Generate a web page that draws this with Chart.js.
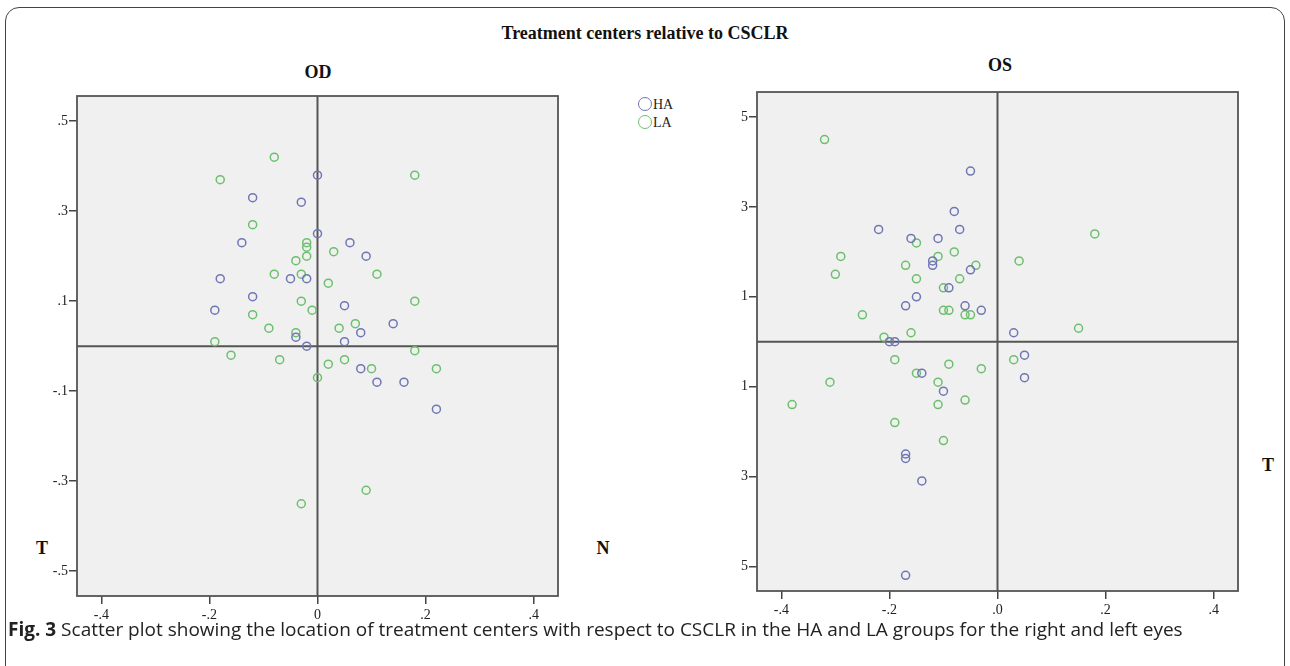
<!DOCTYPE html>
<html>
<head>
<meta charset="utf-8">
<script src="https://cdn.jsdelivr.net/npm/chart.js@4.4.0/dist/chart.umd.min.js"></script>
<style>
  body { margin: 0; background: #fff; width: 1290px; height: 666px; position: relative; overflow: hidden; font-family: "Liberation Serif", serif; }
  #frame { position: absolute; left: 5px; top: 7px; width: 1278px; height: 700px; border: 1.5px solid #444; border-radius: 14px; }
  .lbl { position: absolute; font-weight: bold; color: #111; white-space: nowrap; transform: translate(-50%, -50%); }
  canvas { position: absolute; }
  .leg { position: absolute; font-size: 14px; color: #222; line-height: 16px; }
  .leg span.dot { display: inline-block; width: 12px; height: 12px; border-radius: 50%; border: 1.5px solid; vertical-align: -2px; margin-right: 1px; }
  #cap { position: absolute; left: 8px; top: 616px; font-family: "Open Sans", sans-serif; font-size: 19px; color: #222; white-space: nowrap; }
</style>
</head>
<body>
<div id="frame"></div>
<div class="lbl" style="left:645px;top:33px;font-size:18px">Treatment centers relative to CSCLR</div>
<div class="lbl" style="left:318px;top:72px;font-size:18px">OD</div>
<div class="lbl" style="left:1000px;top:65px;font-size:18px">OS</div>
<div class="lbl" style="left:42px;top:548px;font-size:18px">T</div>
<div class="lbl" style="left:603px;top:548px;font-size:18px">N</div>
<div class="lbl" style="left:1268px;top:465px;font-size:18px">T</div>
<div class="leg" style="left:638px;top:97px"><span class="dot" style="border-color:#6f76b4"></span>HA</div>
<div class="leg" style="left:638px;top:115px"><span class="dot" style="border-color:#6cbf6c"></span>LA</div>
<canvas id="od" width="640" height="540" style="left:0;top:80px"></canvas>
<canvas id="os" width="600" height="539" style="left:680px;top:76px"></canvas>
<div id="cap"><b>Fig. 3</b> Scatter plot showing the location of treatment centers with respect to CSCLR in the HA and LA groups for the right and left eyes</div>
<script>
// OD (right eye)
const odHaX = [0.00, -0.12, -0.03, -0.14, 0.00, 0.06, 0.09, -0.18, -0.05, -0.02, -0.12, -0.19, 0.05, -0.04, 0.08, 0.05, -0.02, 0.08, 0.11, 0.14, 0.16, 0.22];
const odHaY = [0.38, 0.33, 0.32, 0.23, 0.25, 0.23, 0.20, 0.15, 0.15, 0.15, 0.11, 0.08, 0.09, 0.02, 0.03, 0.01, 0.00, -0.05, -0.08, 0.05, -0.08, -0.14];
const odLaX = [-0.08, -0.18, 0.18, -0.12, -0.02, -0.02, -0.02, -0.04, 0.03, 0.11, -0.08, -0.03, 0.02, -0.03, -0.01, -0.12, 0.07, -0.09, -0.04, 0.04, -0.19, -0.16, -0.07, 0.02, 0.05, 0.10, 0.00, 0.18, 0.18, 0.22, 0.09, -0.03];
const odLaY = [0.42, 0.37, 0.38, 0.27, 0.23, 0.22, 0.20, 0.19, 0.21, 0.16, 0.16, 0.16, 0.14, 0.10, 0.08, 0.07, 0.05, 0.04, 0.03, 0.04, 0.01, -0.02, -0.03, -0.04, -0.03, -0.05, -0.07, 0.10, -0.01, -0.05, -0.32, -0.35];

// OS (left eye)
const osHaX = [-0.05, -0.08, -0.22, -0.07, -0.16, -0.11, -0.12, -0.12, -0.05, -0.09, -0.15, -0.17, -0.06, -0.03, -0.20, -0.19, -0.14, -0.10, -0.17, -0.17, -0.14, -0.17, 0.03, 0.05, 0.05];
const osHaY = [0.38, 0.29, 0.25, 0.25, 0.23, 0.23, 0.18, 0.17, 0.16, 0.12, 0.10, 0.08, 0.08, 0.07, 0.00, 0.00, -0.07, -0.11, -0.25, -0.26, -0.31, -0.52, 0.02, -0.03, -0.08];
const osLaX = [-0.32, -0.15, -0.29, -0.30, -0.17, -0.11, -0.08, -0.04, -0.15, -0.07, -0.10, -0.10, -0.09, -0.06, -0.05, -0.25, -0.16, -0.21, -0.19, -0.09, -0.03, -0.15, -0.31, -0.11, -0.06, -0.38, -0.11, -0.19, -0.10, 0.04, 0.18, 0.15, 0.03];
const osLaY = [0.45, 0.22, 0.19, 0.15, 0.17, 0.19, 0.20, 0.17, 0.14, 0.14, 0.12, 0.07, 0.07, 0.06, 0.06, 0.06, 0.02, 0.01, -0.04, -0.05, -0.06, -0.07, -0.09, -0.09, -0.13, -0.14, -0.14, -0.18, -0.22, 0.18, 0.24, 0.03, -0.04];

// ticks
const xTicks = [-0.4, -0.2, 0, 0.2, 0.4];
const yTicks = [-0.5, -0.3, -0.1, 0.1, 0.3, 0.5];
const odXLabels = ['-.4', '-.2', '0', '.2', '.4'];
const osXLabels = ['-.4', '-.2', '.0', '.2', '.4'];
const odYLabels = ['-.5', '-.3', '-.1', '.1', '.3', '.5'];
const osYLabels = ['5', '3', '1', '1', '3', '5'];

const zip = (xs, ys) => xs.map((x, i) => ({ x, y: ys[i] }));

// grey panel, box and the zero cross lines
const panel = {
  id: 'panel',
  beforeDraw(chart) {
    const { ctx, chartArea: a } = chart;
    ctx.save();
    ctx.fillStyle = '#f0f0f0';
    ctx.fillRect(a.left, a.top, a.right - a.left, a.bottom - a.top);
    ctx.restore();
  },
  beforeDatasetsDraw(chart) {
    const { ctx, chartArea: a, scales } = chart;
    const x0 = scales.x.getPixelForValue(0);
    const y0 = scales.y.getPixelForValue(0);
    ctx.save();
    ctx.strokeStyle = '#555';
    ctx.lineWidth = 2;
    ctx.beginPath();
    ctx.moveTo(x0, a.top); ctx.lineTo(x0, a.bottom);
    ctx.moveTo(a.left, y0); ctx.lineTo(a.right, y0);
    ctx.stroke();
    ctx.lineWidth = 1.8;
    ctx.strokeRect(a.left, a.top, a.right - a.left, a.bottom - a.top);
    ctx.restore();
  }
};

function drawPlot(id, ha, la, xLabels, yLabels, padRight) {
  const tickFont = { family: 'Liberation Serif', size: 14 };
  new Chart(document.getElementById(id), {
    type: 'scatter',
    data: {
      datasets: [
        { label: 'HA', data: ha, borderColor: '#6f76b4', backgroundColor: 'transparent', pointRadius: 4, pointHoverRadius: 4, pointBorderWidth: 1.5 },
        { label: 'LA', data: la, borderColor: '#6cbf6c', backgroundColor: 'transparent', pointRadius: 4, pointHoverRadius: 4, pointBorderWidth: 1.5 }
      ]
    },
    options: {
      responsive: false,
      animation: false,
      layout: { padding: { left: 0, top: 16, right: padRight, bottom: 0 } },
      plugins: { legend: { display: false }, tooltip: { enabled: false } },
      scales: {
        x: {
          type: 'linear', min: -0.445, max: 0.445,
          afterBuildTicks: s => { s.ticks = xTicks.map(v => ({ value: v })); },
          afterFit: s => { s.height = 24; },
          grid: { drawOnChartArea: false, drawTicks: true, tickLength: 8, color: '#444', lineWidth: 1.5 },
          border: { display: false },
          ticks: { callback: (v, i) => xLabels[i], font: tickFont, color: '#222', padding: 3, maxRotation: 0, autoSkip: false }
        },
        y: {
          type: 'linear', min: -0.555, max: 0.556,
          afterBuildTicks: s => { s.ticks = yTicks.map(v => ({ value: v })); },
          afterFit: s => { s.width = 77; },
          grid: { drawOnChartArea: false, drawTicks: true, tickLength: 8, color: '#444', lineWidth: 1.5 },
          border: { display: false },
          ticks: { callback: (v, i) => yLabels[i], font: tickFont, color: '#222', padding: 1, autoSkip: false }
        }
      }
    },
    plugins: [panel]
  });
}

drawPlot('od', zip(odHaX, odHaY), zip(odLaX, odLaY), odXLabels, odYLabels, 82);
drawPlot('os', zip(osHaX, osHaY), zip(osLaX, osLaY), osXLabels, osYLabels, 42);
</script>
</body>
</html>
